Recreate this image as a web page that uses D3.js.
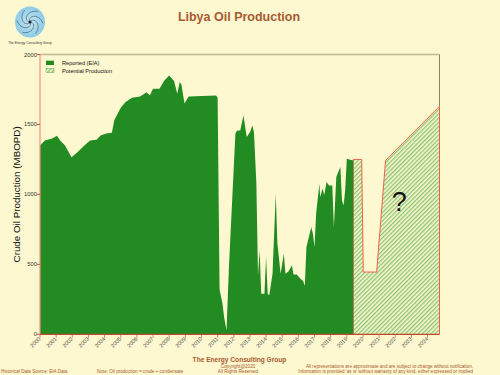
<!DOCTYPE html>
<html>
<head>
<meta charset="utf-8">
<script src="https://cdn.jsdelivr.net/npm/d3@7"></script>
<style>
  html, body { margin: 0; padding: 0; background: #fdf8d0; }
  svg { display: block; font-family: Arial, "Liberation Sans", sans-serif; }
</style>
</head>
<body>
<script>
// ---------- DATA ----------
const reportedYears = [2000.0, 2000.3, 2000.75, 2001.05, 2001.25, 2001.55, 2001.95, 2002.3, 2002.75, 2003.1, 2003.5, 2003.75, 2004.1, 2004.45, 2004.6, 2005.0, 2005.3, 2005.7, 2006.2, 2006.6, 2006.8, 2007.0, 2007.4, 2007.7, 2008.0, 2008.3, 2008.5, 2008.65, 2008.75, 2008.95, 2009.2, 2010.9, 2011.0, 2011.12, 2011.3, 2011.4, 2011.55, 2011.7, 2011.9, 2012.1, 2012.2, 2012.4, 2012.6, 2012.8, 2013.0, 2013.15, 2013.25, 2013.4, 2013.5, 2013.6, 2013.7, 2013.9, 2014.0, 2014.1, 2014.2, 2014.4, 2014.6, 2014.7, 2014.9, 2015.1, 2015.2, 2015.4, 2015.6, 2015.7, 2015.9, 2016.1, 2016.3, 2016.4, 2016.5, 2016.7, 2016.8, 2016.9, 2017.0, 2017.1, 2017.3, 2017.35, 2017.5, 2017.6, 2017.75, 2017.9, 2018.1, 2018.2, 2018.35, 2018.6, 2018.7, 2018.8, 2018.9, 2019.0, 2019.15, 2019.4];
const reportedValues = [1350, 1386, 1400, 1420, 1386, 1350, 1265, 1300, 1350, 1386, 1390, 1421, 1435, 1440, 1530, 1620, 1660, 1690, 1700, 1730, 1707, 1755, 1755, 1814, 1850, 1810, 1720, 1802, 1790, 1650, 1700, 1707, 1690, 320, 220, 124, 28, 480, 957, 1433, 1457, 1457, 1564, 1410, 1445, 1493, 1445, 1077, 420, 600, 290, 290, 552, 290, 280, 433, 1005, 650, 433, 576, 433, 450, 493, 428, 428, 400, 380, 345, 624, 719, 766, 719, 624, 862, 1076, 981, 1043, 995, 1088, 1064, 1064, 766, 1124, 1195, 957, 920, 1029, 1255, 1250, 1243];

const potentialYears = [2019.4, 2019.92, 2020.02, 2020.85, 2021.4, 2024.74];
const potentialValues = [1250, 1250, 445, 445, 1243, 1630];

const yTicks = [0, 500, 1000, 1500, 2000];
const xTickYears = d3.range(2000, 2025);
const legendLabels = ["Reported (EIA)", "Potential Production"];

// ---------- SETUP ----------
const W = 500, H = 375;
const svg = d3.select("body").append("svg").attr("width", W).attr("height", H);
svg.append("rect").attr("width", W).attr("height", H).attr("fill", "#fdf8d0");

const x = d3.scaleLinear().domain([2000, 2024.74]).range([40, 439.5]);
const y = d3.scaleLinear().domain([0, 2000]).range([334.3, 54.5]);

const defs = svg.append("defs");
const pat = defs.append("pattern").attr("id", "hatch").attr("patternUnits", "userSpaceOnUse")
  .attr("width", 3).attr("height", 3).attr("patternTransform", "rotate(45)");
pat.append("rect").attr("width", 3).attr("height", 3).attr("fill", "#fdf8d0");
pat.append("line").attr("x1", 0.7).attr("y1", 0).attr("x2", 0.7).attr("y2", 3)
  .attr("stroke", "#7fbf6a").attr("stroke-width", 1.2);

// plot frame (top & right)
svg.append("line").attr("x1", 40).attr("x2", x(2024.74)).attr("y1", y(2000)).attr("y2", y(2000))
  .attr("stroke", "#c2b98f").attr("stroke-width", 1.5);
svg.append("line").attr("x1", x(2024.74)).attr("x2", x(2024.74)).attr("y1", y(2000)).attr("y2", y(0))
  .attr("stroke", "#8a8468").attr("stroke-width", 1);

// potential area
const potData = potentialYears.map((d, i) => [d, potentialValues[i]]);
const areaGen = d3.area().x(d => x(d[0])).y0(y(0)).y1(d => y(d[1]));
svg.append("path").datum(potData).attr("d", areaGen).attr("fill", "url(#hatch)");
const potOutline = [[potentialYears[0], 0]].concat(potData).concat([[potentialYears[potentialYears.length - 1], 0]]);
svg.append("path").datum(potOutline)
  .attr("d", d3.line().x(d => x(d[0])).y(d => y(d[1])))
  .attr("fill", "none").attr("stroke", "#f0604c").attr("stroke-width", 1);

// reported area
const repData = reportedYears.map((d, i) => [d, reportedValues[i]]);
svg.append("path").datum(repData).attr("d", areaGen).attr("fill", "#228b22");

// question mark
svg.append("text").attr("x", x(2022.25)).attr("y", y(880)).attr("text-anchor", "middle")
  .attr("font-size", 27).attr("fill", "#111").text("?");

// y axis
svg.append("line").attr("x1", 40).attr("x2", 40).attr("y1", y(0)).attr("y2", y(2000))
  .attr("stroke", "#f2937e").attr("stroke-width", 1.2);
const ya = svg.append("g");
ya.selectAll("line").data(yTicks).join("line")
  .attr("x1", 37).attr("x2", 40).attr("y1", d => y(d)).attr("y2", d => y(d))
  .attr("stroke", "#e8463a").attr("stroke-width", 1);
ya.selectAll("text").data(yTicks).join("text")
  .attr("x", 37).attr("y", d => y(d) + 2).attr("text-anchor", "end")
  .attr("font-size", 5.8).attr("fill", "#333").text(d => d);

// x axis
const xa = svg.append("g");
xa.selectAll("line").data(xTickYears).join("line")
  .attr("x1", d => x(d)).attr("x2", d => x(d)).attr("y1", y(0)).attr("y2", y(0) + 3.5)
  .attr("stroke", "#f07a66").attr("stroke-width", 1);
svg.append("line").attr("x1", 40).attr("x2", x(2024.74)).attr("y1", y(0)).attr("y2", y(0))
  .attr("stroke", "#c04a28").attr("stroke-width", 1.3);
xa.selectAll("text").data(xTickYears).join("text")
  .attr("transform", d => `translate(${x(d) + 1},${y(0) + 5}) rotate(-45)`)
  .attr("text-anchor", "end").attr("font-size", 5.5).attr("fill", "#444").text(d => d);

// y label
svg.append("text").attr("transform", `translate(19.5,${(y(0) + y(2000)) / 2}) rotate(-90)`)
  .attr("text-anchor", "middle").attr("font-size", 9.8).attr("fill", "#111")
  .text("Crude Oil Production (MBOPD)");

// title
svg.append("text").attr("x", 239).attr("y", 20.5).attr("text-anchor", "middle")
  .attr("font-size", 12.5).attr("font-weight", "bold").attr("fill", "#a65a32")
  .text("Libya Oil Production");

// legend
const leg = svg.append("g");
leg.append("rect").attr("x", 46).attr("y", 60.7).attr("width", 8).attr("height", 4.3).attr("fill", "#228b22");
leg.append("rect").attr("x", 46).attr("y", 68.3).attr("width", 8).attr("height", 4.3).attr("fill", "url(#hatch)")
  .attr("stroke", "#5aa85a").attr("stroke-width", 0.5);
leg.selectAll("text").data(legendLabels).join("text")
  .attr("x", 62).attr("y", (d, i) => 65.2 + i * 7.6).attr("font-size", 5.6).attr("fill", "#111").text(d => d);

// logo
const logo = svg.append("g").attr("transform", "translate(30,22)");
const rg = defs.append("radialGradient").attr("id", "lg");
rg.append("stop").attr("offset", "0%").attr("stop-color", "#c8e6f2");
rg.append("stop").attr("offset", "100%").attr("stop-color", "#8ccbe6");
logo.append("ellipse").attr("rx", 15).attr("ry", 15.5).attr("fill", "url(#lg)");
const arms = d3.range(0, 6);
logo.selectAll("path.arm").data(arms).join("path").attr("class", "arm")
  .attr("d", k => {
    const pts = d3.range(0, 1.01, 0.1).map(t => {
      const r = 1 + t * 12, a = k * Math.PI / 3 + t * 2.2;
      return [r * Math.cos(a), r * Math.sin(a)];
    });
    return d3.line().curve(d3.curveBasis)(pts);
  })
  .attr("fill", "none").attr("stroke", "#2e4456").attr("stroke-width", 0.7).attr("opacity", 0.8);
logo.append("circle").attr("r", 1.5).attr("fill", "#1a2430");
svg.append("text").attr("x", 30).attr("y", 44).attr("text-anchor", "middle")
  .attr("font-size", 3.3).attr("fill", "#333").text("The Energy Consulting Group");

// footer
const brown = "#a8582e";
svg.append("text").attr("x", 239.5).attr("y", 362).attr("text-anchor", "middle")
  .attr("font-size", 6.6).attr("font-weight", "bold").attr("fill", brown).text("The Energy Consulting Group");
svg.append("text").attr("x", 238).attr("y", 367.5).attr("text-anchor", "middle")
  .attr("font-size", 4.6).attr("fill", brown).text("Copyright@2020");
svg.append("text").attr("x", 238).attr("y", 373).attr("text-anchor", "middle")
  .attr("font-size", 4.6).attr("fill", brown).text("All Rights Reserved");
svg.append("text").attr("x", 1).attr("y", 373).attr("font-size", 4.6).attr("fill", brown)
  .text("Historical Data Source: EIA Data");
svg.append("text").attr("x", 97).attr("y", 373).attr("font-size", 4.6).attr("fill", brown)
  .text("Note: Oil production = crude + condensate");
svg.append("text").attr("x", 473).attr("y", 367.5).attr("text-anchor", "end").attr("font-size", 4.6).attr("fill", brown)
  .text("All representations are approximate and are subject to change without notification.");
svg.append("text").attr("x", 473).attr("y", 373).attr("text-anchor", "end").attr("font-size", 4.6).attr("fill", brown)
  .text("Information is provided 'as is' without warranty of any kind, either expressed or implied");
</script>
</body>
</html>
